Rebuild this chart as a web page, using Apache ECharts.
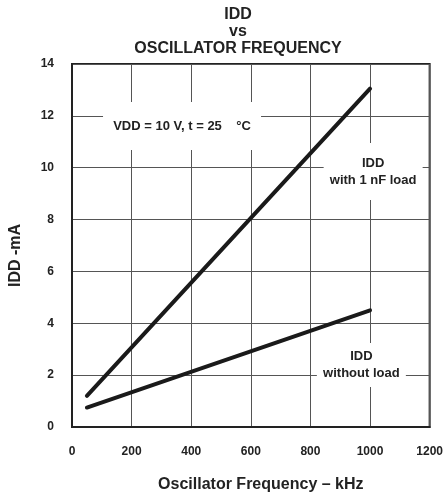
<!DOCTYPE html>
<html>
<head>
<meta charset="utf-8">
<script src="https://cdn.jsdelivr.net/npm/echarts@6/dist/echarts.min.js"></script>
<style>html,body{margin:0;padding:0;background:#fff}#c{width:446px;height:498px}</style>
</head>
<body>
<div id="c"></div>
<script>
// Data
var freqWithLoad = [50, 1000];          // kHz
var iddWithLoad = [1.2, 13.05];         // mA
var freqNoLoad = [50, 1000];            // kHz
var iddNoLoad = [0.75, 4.5];            // mA
var xTicks = [0, 200, 400, 600, 800, 1000, 1200];
var yTicks = [0, 2, 4, 6, 8, 10, 12, 14];

// Annotations: [text, x, y, boxW, boxH]
var notes = [
  ['VDD = 10 V, t = 25    °C', 369.2, 11.61, 158, 48],
  ['IDD\nwith 1 nF load', 1010.4, 9.85, 99, 57],
  ['IDD\nwithout load', 970.9, 2.39, 89, 44]
];

var FONT = '"Liberation Sans", Arial, Helvetica, sans-serif';
var TXT = '#222';

function pairs(xs, ys) { return xs.map(function (x, i) { return [x, ys[i]]; }); }

var chart = echarts.init(document.getElementById('c'), null, { renderer: 'canvas' });
chart.setOption({
  animation: false,
  backgroundColor: '#fff',
  title: {
    text: 'IDD\nvs\nOSCILLATOR FREQUENCY',
    left: 233, top: 1, textAlign: 'center',
    textStyle: { fontFamily: FONT, fontWeight: 'bold', fontSize: 16, lineHeight: 17, color: TXT }
  },
  grid: { left: 71, right: 11, top: 64, bottom: 71, show: true, borderColor: '#222', borderWidth: 2, backgroundColor: 'transparent' },
  xAxis: {
    type: 'value', min: xTicks[0], max: xTicks[xTicks.length - 1], interval: xTicks[1] - xTicks[0],
    name: 'Oscillator Frequency – kHz', nameLocation: 'middle', nameGap: 50,
    nameTextStyle: { fontFamily: FONT, fontWeight: 'bold', fontSize: 16, color: TXT, padding: [0, 0, 0, 20] },
    axisLine: { show: true, lineStyle: { color: '#222', width: 2 } },
    axisTick: { show: false },
    axisLabel: { fontFamily: FONT, fontWeight: 'bold', fontSize: 12, color: TXT, margin: 19, showMaxLabel: true, showMinLabel: true,
      formatter: function (v) { return String(v); } },
    splitLine: { show: true, lineStyle: { color: '#555', width: 1 } }
  },
  yAxis: {
    type: 'value', min: yTicks[0], max: yTicks[yTicks.length - 1], interval: yTicks[1] - yTicks[0],
    name: 'IDD -mA', nameLocation: 'middle', nameGap: 48, nameRotate: 90,
    nameTextStyle: { fontFamily: FONT, fontWeight: 'bold', fontSize: 16, color: TXT, padding: [0, 20, 0, 0] },
    axisLine: { show: true, lineStyle: { color: '#222', width: 2 } },
    axisTick: { show: false },
    axisLabel: { fontFamily: FONT, fontWeight: 'bold', fontSize: 12, color: TXT, margin: 18,
      formatter: function (v) { return String(v); } },
    splitLine: { show: true, lineStyle: { color: '#555', width: 1 } }
  },
  series: [
    {
      type: 'line', data: pairs(freqWithLoad, iddWithLoad), showSymbol: false, symbol: 'none', z: 3,
      lineStyle: { color: '#1a1a1a', width: 4, cap: 'round' }
    },
    {
      type: 'line', data: pairs(freqNoLoad, iddNoLoad), showSymbol: false, symbol: 'none', z: 3,
      lineStyle: { color: '#1a1a1a', width: 4, cap: 'round' }
    },
    {
      type: 'scatter', data: [], z: 2, silent: true,
      markPoint: {
        silent: true,
        animation: false,
        data: notes.map(function (n) {
          return {
            coord: [n[1], n[2]], symbol: 'rect', symbolSize: [n[3], n[4]],
            itemStyle: { color: '#fff' },
            label: {
              show: true, position: 'inside', formatter: n[0],
              fontFamily: FONT, fontWeight: 'bold', fontSize: 13, lineHeight: 17, color: TXT, align: 'center'
            }
          };
        })
      }
    }
  ]
});
</script>
</body>
</html>
